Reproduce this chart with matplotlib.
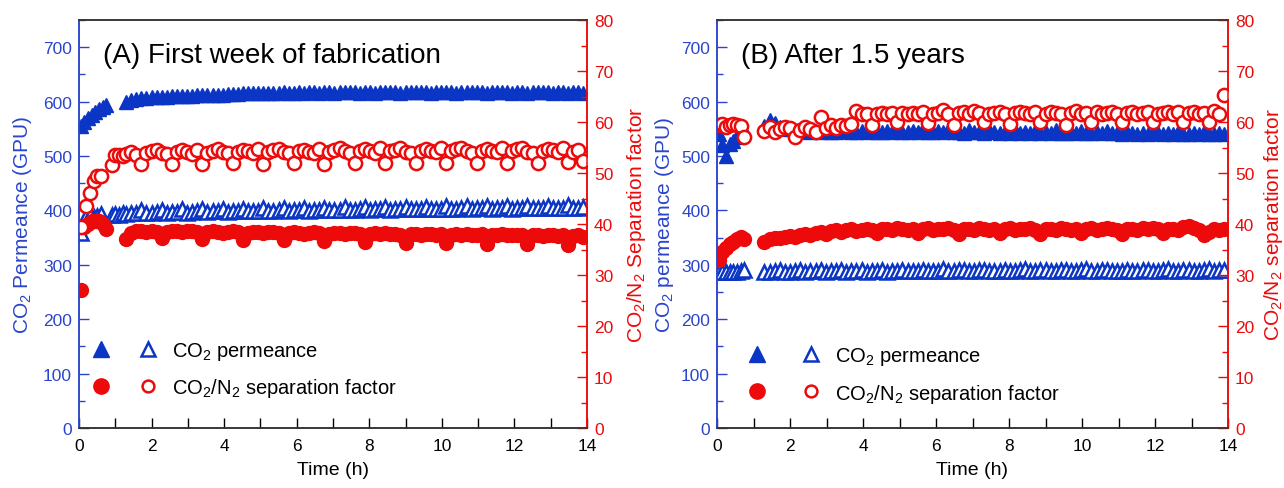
import matplotlib
matplotlib.use("Agg")
import matplotlib.pyplot as plt
from matplotlib.ticker import MultipleLocator
from matplotlib.legend_handler import HandlerTuple

plt.rcParams['font.family'] = ['Liberation Sans', 'DejaVu Sans']
plt.rcParams['mathtext.default'] = 'regular'

# ---------------- data ----------------
t_main = [1.30, 1.44, 1.58, 1.72, 1.86, 2.00, 2.14, 2.28, 2.42, 2.56,
          2.70, 2.84, 2.98, 3.12, 3.26, 3.40, 3.54, 3.68, 3.82, 3.96,
          4.10, 4.24, 4.38, 4.52, 4.66, 4.80, 4.94, 5.08, 5.22, 5.36,
          5.50, 5.64, 5.78, 5.92, 6.06, 6.20, 6.34, 6.48, 6.62, 6.76,
          6.90, 7.04, 7.18, 7.32, 7.46, 7.60, 7.74, 7.88, 8.02, 8.16,
          8.30, 8.44, 8.58, 8.72, 8.86, 9.00, 9.14, 9.28, 9.42, 9.56,
          9.70, 9.84, 9.98, 10.12, 10.26, 10.40, 10.54, 10.68, 10.82, 10.96,
          11.10, 11.24, 11.38, 11.52, 11.66, 11.80, 11.94, 12.08, 12.22, 12.36,
          12.50, 12.64, 12.78, 12.92, 13.06, 13.20, 13.34, 13.48, 13.62, 13.76, 13.90]

# Panel A: first week of fabrication
tA_fill_early = [0.05, 0.15, 0.25, 0.35, 0.45, 0.55, 0.65, 0.75]
tA_open_early = [0.05, 0.20, 0.30, 0.40, 0.50, 0.60, 0.90, 1.00, 1.10, 1.20]

A_perm_fill_early = [556, 563, 570, 576, 581, 586, 590, 594]
A_perm_fill_main = [600, 603, 605, 606, 607, 608, 608, 609, 609, 610,
                    610, 611, 611, 611, 612, 612, 612, 613, 613, 613,
                    614, 614, 614, 615, 615, 615, 615, 616, 616, 616,
                    616, 617, 616, 616, 617, 616, 617, 617, 616, 617,
                    617, 616, 617, 617, 618, 617, 616, 617, 617, 616,
                    617, 617, 618, 617, 616, 617, 617, 618, 617, 617,
                    616, 617, 618, 617, 617, 616, 617, 618, 617, 617,
                    617, 616, 617, 617, 618, 617, 616, 617, 617, 616,
                    617, 617, 618, 617, 616, 617, 617, 616, 617, 617, 616]

A_sep_fill_early = [27.0, 39.5, 40.0, 40.5, 40.5, 40.5, 40.0, 39.0]
A_sep_fill_main = [37.0, 38.3, 38.6, 38.7, 38.5, 38.6, 38.4, 37.2, 38.5, 38.7,
                   38.6, 38.4, 38.6, 38.7, 38.5, 37.0, 38.4, 38.6, 38.5, 38.3,
                   38.5, 38.6, 38.4, 36.9, 38.3, 38.5, 38.4, 38.2, 38.5, 38.4,
                   38.3, 36.8, 38.2, 38.4, 38.3, 38.1, 38.3, 38.4, 38.2, 36.7,
                   38.1, 38.3, 38.2, 38.0, 38.3, 38.2, 38.1, 36.5, 38.0, 38.2,
                   38.1, 38.2, 38.0, 38.1, 37.9, 36.3, 38.0, 38.1, 37.9, 38.0,
                   38.1, 37.9, 38.0, 36.2, 37.9, 38.0, 37.8, 38.0, 37.9, 37.8,
                   38.0, 36.0, 37.8, 37.9, 38.0, 37.8, 37.9, 37.8, 37.9, 36.0,
                   37.8, 37.9, 37.7, 37.9, 37.8, 37.7, 37.9, 35.8, 37.6, 37.8, 37.4]

A_perm_open_early = [358, 389, 391, 388, 390, 393, 391, 394, 392, 395]
A_perm_open_main = [394, 395, 396, 401, 395, 396, 397, 401, 396, 397,
                    397, 402, 396, 397, 398, 402, 397, 398, 398, 403,
                    397, 398, 399, 403, 398, 399, 399, 404, 398, 399,
                    400, 404, 399, 400, 400, 405, 399, 400, 401, 405,
                    400, 401, 401, 406, 400, 401, 402, 406, 401, 402,
                    402, 407, 401, 402, 402, 407, 402, 402, 403, 407,
                    402, 403, 403, 408, 402, 403, 404, 408, 403, 404,
                    404, 409, 403, 404, 404, 409, 403, 404, 405, 409,
                    404, 405, 405, 409, 404, 405, 405, 410, 404, 405, 406]

A_sep_open_early = [39.5, 43.5, 46.0, 48.5, 49.5, 49.5, 51.5, 53.5, 53.6, 53.4]
A_sep_open_main = [53.8, 54.2, 53.5, 51.8, 53.9, 54.3, 54.6, 54.0, 53.7, 51.7,
                   54.1, 54.5, 54.2, 53.8, 54.6, 51.8, 54.0, 54.4, 54.7, 54.1,
                   53.9, 51.9, 54.2, 54.6, 54.3, 54.0, 54.7, 51.8, 54.1, 54.5,
                   54.8, 54.2, 53.9, 51.9, 54.3, 54.6, 54.2, 54.0, 54.8, 51.8,
                   54.2, 54.6, 54.9, 54.3, 54.0, 51.9, 54.4, 54.7, 54.3, 54.0,
                   54.9, 51.9, 54.3, 54.6, 54.9, 54.2, 54.0, 52.0, 54.4, 54.8,
                   54.4, 54.1, 54.9, 51.9, 54.3, 54.7, 55.0, 54.3, 54.0, 52.0,
                   54.4, 54.8, 54.4, 54.1, 55.0, 52.0, 54.3, 54.7, 54.9, 54.2,
                   54.0, 52.0, 54.4, 54.8, 54.5, 54.1, 54.9, 52.1, 54.2, 54.6, 52.3]

# Panel B: after 1.5 years
tB_early = [0.05, 0.15, 0.25, 0.35, 0.45, 0.55, 0.65, 0.75]

B_perm_fill_early = [540, 520, 500, 522, 528, 535, 551, 548]
B_perm_fill_main = [555, 566, 560, 554, 551, 549, 547, 546, 549, 545,
                    546, 544, 548, 545, 544, 546, 549, 545, 544, 546,
                    545, 548, 544, 545, 546, 544, 548, 545, 544, 546,
                    545, 549, 544, 545, 546, 544, 548, 544, 545, 543,
                    547, 544, 545, 543, 548, 544, 543, 545, 543, 547,
                    543, 544, 542, 546, 543, 544, 542, 547, 543, 542,
                    544, 542, 546, 543, 542, 544, 542, 546, 542, 543,
                    541, 545, 542, 541, 543, 541, 545, 542, 541, 543,
                    540, 544, 541, 540, 542, 540, 545, 541, 540, 542, 540]

B_sep_fill_early = [33.0, 34.5, 35.3, 36.0, 36.5, 37.0, 37.5, 37.0]
B_sep_fill_main = [36.5, 37.0, 37.2, 37.3, 37.5, 37.6, 37.4, 37.8, 38.0, 37.9,
                   38.2, 38.4, 38.1, 38.6, 38.8, 38.5, 38.9, 39.0, 38.7, 38.9,
                   39.1, 38.9, 38.2, 39.0, 39.1, 38.9, 39.2, 39.0, 38.9, 39.1,
                   38.2, 39.0, 39.2, 38.9, 39.1, 39.0, 39.2, 38.9, 38.1, 39.0,
                   39.1, 38.9, 39.2, 39.0, 38.9, 39.1, 38.2, 39.0, 39.2, 38.9,
                   39.1, 39.0, 39.2, 38.9, 38.1, 39.0, 39.1, 38.9, 39.2, 39.0,
                   38.9, 39.1, 38.2, 39.0, 39.2, 38.9, 39.1, 39.3, 39.0, 38.8,
                   38.1, 39.0, 39.1, 38.9, 39.2, 39.0, 39.3, 39.1, 38.2, 39.0,
                   39.1, 38.9, 39.4, 39.7, 39.2, 38.9, 37.8, 38.5, 39.0, 38.8, 39.0]

B_perm_open_early = [287, 286, 287, 286, 287, 287, 288, 291]
B_perm_open_main = [286, 287, 288, 290, 286, 287, 288, 290, 287, 288,
                    289, 290, 287, 288, 289, 291, 287, 288, 289, 290,
                    287, 288, 289, 291, 287, 288, 289, 290, 288, 289,
                    289, 291, 288, 289, 289, 293, 288, 289, 290, 291,
                    288, 289, 290, 291, 288, 289, 289, 291, 288, 289,
                    290, 292, 288, 289, 290, 291, 288, 289, 290, 291,
                    288, 289, 290, 292, 288, 289, 290, 291, 288, 289,
                    289, 291, 288, 289, 290, 291, 288, 289, 290, 292,
                    288, 289, 290, 291, 288, 289, 290, 292, 288, 290, 291]

B_sep_open_early = [59.5, 59.6, 59.0, 59.5, 59.6, 59.5, 59.2, 57.0]
B_sep_open_main = [58.3, 59.0, 58.0, 58.6, 59.0, 58.8, 57.1, 58.4, 59.0, 58.6,
                   58.1, 61.0, 58.8, 59.5, 58.9, 59.5, 59.2, 59.6, 62.2, 61.6,
                   61.6, 59.5, 61.6, 61.8, 61.6, 61.8, 60.0, 61.8, 61.6, 61.8,
                   61.6, 62.0, 59.8, 61.6, 61.8, 62.4, 61.6, 59.5, 61.8, 62.0,
                   61.6, 62.2, 61.8, 60.0, 61.6, 61.8, 62.0, 61.6, 59.6, 61.8,
                   62.0, 61.8, 61.6, 62.0, 60.0, 61.6, 62.0, 61.8, 61.6, 59.5,
                   61.8, 62.2, 61.6, 61.8, 60.0, 62.0, 61.6, 61.8, 62.0, 61.6,
                   60.0, 61.8, 62.0, 61.6, 61.8, 62.0, 60.0, 61.6, 61.8, 62.0,
                   61.6, 62.0, 60.0, 61.8, 62.0, 61.6, 61.8, 60.0, 62.2, 61.6, 65.2]

titles = ["(A) First week of fabrication", "(B) After 1.5 years"]
left_labels = ["CO$_2$ Permeance (GPU)", "CO$_2$ permeance (GPU)"]
right_labels = ["CO$_2$/N$_2$ Separation factor", "CO$_2$/N$_2$ separation factor"]
legend_labels = ["CO$_2$ permeance", "CO$_2$/N$_2$ separation factor"]

BLUE = '#0b35c4'
BLUE_TXT = '#2a45cc'
RED = '#ec0a0a'

fig = plt.figure(figsize=(12.84, 4.89), dpi=100)
W, H = 1284, 489

panels = [
    dict(rect=[79 / W, 60 / H, 508 / W, 408 / H],
         t_fill=tA_fill_early + t_main, t_open=tA_open_early + t_main,
         pf=A_perm_fill_early + A_perm_fill_main, po=A_perm_open_early + A_perm_open_main,
         sf=A_sep_fill_early + A_sep_fill_main, so=A_sep_open_early + A_sep_open_main,
         lab_l=-0.088, lab_r=1.075, leg_x=-0.003, leg_y=0.143, hl=4.67, htp=0.0),
    dict(rect=[717 / W, 60 / H, 511 / W, 408 / H],
         t_fill=tB_early + t_main, t_open=tB_early + t_main,
         pf=B_perm_fill_early + B_perm_fill_main, po=B_perm_open_early + B_perm_open_main,
         sf=B_sep_fill_early + B_sep_fill_main, so=B_sep_open_early + B_sep_open_main,
         lab_l=-0.080, lab_r=1.066, leg_x=0.025, leg_y=0.130, hl=5.37, htp=-0.15),
]

for i, p in enumerate(panels):
    ax = fig.add_axes(p['rect'])
    ax2 = ax.twinx()
    ax.plot(p['t_fill'], p['pf'], ls='none', marker='^', ms=10.5, color=BLUE, mec=BLUE)
    ax.plot(p['t_open'], p['po'], ls='none', marker='^', ms=10, mfc='white', mec=BLUE, mew=1.8)
    ax2.plot(p['t_fill'], p['sf'], ls='none', marker='o', ms=10, color=RED, mec=RED)
    ax2.plot(p['t_open'], p['so'], ls='none', marker='o', ms=9.5, mfc='white', mec=RED, mew=1.8)

    ax.set_xlim(0, 14)
    ax.set_ylim(0, 750)
    ax2.set_ylim(0, 80)
    ax.xaxis.set_major_locator(MultipleLocator(2))
    ax.xaxis.set_minor_locator(MultipleLocator(1))
    ax.yaxis.set_major_locator(MultipleLocator(100))
    ax.yaxis.set_minor_locator(MultipleLocator(50))
    ax2.yaxis.set_major_locator(MultipleLocator(10))
    ax2.yaxis.set_minor_locator(MultipleLocator(5))

    ax.tick_params(axis='x', which='both', direction='in', top=False, labelsize=12.5,
                   colors='black', pad=7)
    ax.tick_params(axis='x', which='major', length=7, width=1)
    ax.tick_params(axis='x', which='minor', length=7, width=1)
    ax.tick_params(axis='y', which='both', direction='in', right=False, labelsize=12.5,
                   colors=BLUE_TXT, width=1, pad=5)
    ax.tick_params(axis='y', which='major', length=7)
    ax.tick_params(axis='y', which='minor', length=4)
    ax2.tick_params(axis='y', which='both', direction='in', labelsize=12.5,
                    colors=RED, width=1, pad=5)
    ax2.tick_params(axis='y', which='major', length=7)
    ax2.tick_params(axis='y', which='minor', length=4)

    for a in (ax, ax2):
        a.spines['left'].set_color(BLUE_TXT)
        a.spines['right'].set_color(RED)
        a.spines['top'].set_color('#333333')
        a.spines['bottom'].set_color('#333333')
        for s in a.spines.values():
            s.set_linewidth(1.1)

    ax.set_xlabel("Time (h)", fontsize=14, labelpad=6)
    ax.set_ylabel(left_labels[i], fontsize=15, color=BLUE_TXT)
    ax.yaxis.set_label_coords(p['lab_l'], 0.5)
    ax2.set_ylabel(right_labels[i], fontsize=15, color=RED)
    ax2.yaxis.set_label_coords(p['lab_r'], 0.5)

    ax.text(0.047, 0.915, titles[i], transform=ax.transAxes, fontsize=20,
            ha='left', va='center', color='black')

    # legend (markers only)
    lf_t, = ax.plot([], [], ls='none', marker='^', ms=11, color=BLUE)
    lo_t, = ax.plot([], [], ls='none', marker='^', ms=10, mfc='white', mec=BLUE, mew=1.8)
    lf_c, = ax.plot([], [], ls='none', marker='o', ms=11, color=RED)
    lo_c, = ax.plot([], [], ls='none', marker='o', ms=8.5, mfc='white', mec=RED, mew=1.8)
    ax2.legend([(lf_t, lo_t), (lf_c, lo_c)], legend_labels,
               handler_map={tuple: HandlerTuple(ndivide=None, pad=0)},
               loc='center left', bbox_to_anchor=(p['leg_x'], p['leg_y']),
               frameon=False, fontsize=14.5, handlelength=p['hl'],
               handletextpad=p['htp'], labelspacing=0.7, borderpad=0,
               borderaxespad=0)

fig.savefig("out.png", dpi=100)
